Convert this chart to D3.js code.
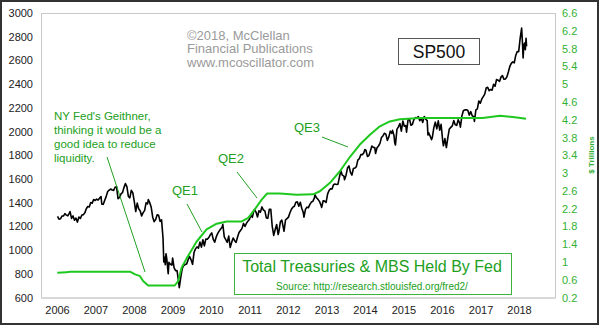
<!DOCTYPE html>
<html><head><meta charset="utf-8">
<script src="https://cdn.jsdelivr.net/npm/d3@7"></script>
<style>
html,body{margin:0;padding:0;background:#fff;}
svg text{font-family:"Liberation Sans",Arial,sans-serif;}
</style></head>
<body><svg id="c" width="600" height="326"></svg>
<script>
// ---------- DATA ----------
const spDates = [
"2006-01-06","2006-01-20","2006-02-03","2006-02-17","2006-03-03","2006-03-17","2006-03-31","2006-04-14","2006-04-28","2006-05-05","2006-05-19","2006-06-02","2006-06-16","2006-06-30","2006-07-14","2006-07-28","2006-08-11","2006-08-25","2006-09-08","2006-09-22","2006-10-06","2006-10-20","2006-11-03","2006-11-17","2006-12-01","2006-12-15","2006-12-29",
"2007-01-12","2007-01-26","2007-02-09","2007-02-23","2007-03-02","2007-03-16","2007-03-30","2007-04-13","2007-04-27","2007-05-11","2007-05-25","2007-06-08","2007-06-22","2007-07-06","2007-07-20","2007-08-03","2007-08-17","2007-08-31","2007-09-14","2007-09-28","2007-10-12","2007-10-26","2007-11-09","2007-11-23","2007-12-07","2007-12-21",
"2008-01-04","2008-01-18","2008-02-01","2008-02-15","2008-02-29","2008-03-14","2008-03-28","2008-04-11","2008-04-25","2008-05-09","2008-05-16","2008-05-30","2008-06-13","2008-06-27","2008-07-11","2008-07-25","2008-08-08","2008-08-22","2008-09-05","2008-09-19","2008-10-03","2008-10-10","2008-10-17","2008-10-24","2008-10-31","2008-11-07","2008-11-21","2008-11-28","2008-12-12","2008-12-26",
"2009-01-02","2009-01-16","2009-01-30","2009-02-13","2009-02-27","2009-03-06","2009-03-20","2009-04-03","2009-04-17","2009-05-01","2009-05-15","2009-05-29","2009-06-12","2009-06-26","2009-07-10","2009-07-24","2009-08-07","2009-08-21","2009-09-04","2009-09-18","2009-10-02","2009-10-16","2009-10-30","2009-11-13","2009-11-27","2009-12-11","2009-12-24",
"2010-01-08","2010-01-22","2010-02-05","2010-02-19","2010-03-05","2010-03-19","2010-04-02","2010-04-16","2010-04-23","2010-05-07","2010-05-21","2010-06-04","2010-06-18","2010-07-02","2010-07-16","2010-07-30","2010-08-13","2010-08-27","2010-09-10","2010-09-24","2010-10-08","2010-10-22","2010-11-05","2010-11-19","2010-12-03","2010-12-17","2010-12-31",
"2011-01-14","2011-01-28","2011-02-11","2011-02-18","2011-03-04","2011-03-18","2011-04-01","2011-04-15","2011-04-29","2011-05-13","2011-05-27","2011-06-10","2011-06-24","2011-07-08","2011-07-22","2011-08-05","2011-08-19","2011-09-02","2011-09-16","2011-09-30","2011-10-07","2011-10-21","2011-11-04","2011-11-25","2011-12-09","2011-12-23",
"2012-01-06","2012-01-20","2012-02-03","2012-02-17","2012-03-02","2012-03-16","2012-03-30","2012-04-13","2012-04-27","2012-05-11","2012-05-25","2012-06-01","2012-06-15","2012-06-29","2012-07-13","2012-07-27","2012-08-10","2012-08-24","2012-09-07","2012-09-14","2012-09-28","2012-10-12","2012-10-26","2012-11-09","2012-11-16","2012-11-30","2012-12-14","2012-12-28",
"2013-01-11","2013-01-25","2013-02-08","2013-02-22","2013-03-08","2013-03-22","2013-04-05","2013-04-19","2013-05-03","2013-05-17","2013-05-31","2013-06-14","2013-06-21","2013-07-05","2013-07-19","2013-08-02","2013-08-16","2013-08-30","2013-09-13","2013-09-27","2013-10-11","2013-10-25","2013-11-08","2013-11-22","2013-12-06","2013-12-20","2013-12-31",
"2014-01-10","2014-01-24","2014-02-07","2014-02-21","2014-03-07","2014-03-21","2014-04-04","2014-04-11","2014-04-25","2014-05-09","2014-05-23","2014-06-06","2014-06-20","2014-07-03","2014-07-18","2014-08-01","2014-08-15","2014-08-29","2014-09-12","2014-09-19","2014-10-03","2014-10-10","2014-10-17","2014-10-31","2014-11-14","2014-11-28","2014-12-12","2014-12-26",
"2015-01-09","2015-01-23","2015-01-30","2015-02-13","2015-02-27","2015-03-13","2015-03-27","2015-04-10","2015-04-24","2015-05-08","2015-05-22","2015-06-05","2015-06-19","2015-07-03","2015-07-17","2015-07-31","2015-08-14","2015-08-21","2015-08-28","2015-09-11","2015-09-25","2015-10-02","2015-10-16","2015-10-30","2015-11-13","2015-11-27","2015-12-11","2015-12-24",
"2016-01-08","2016-01-15","2016-01-29","2016-02-12","2016-02-26","2016-03-11","2016-03-25","2016-04-08","2016-04-22","2016-05-06","2016-05-20","2016-06-03","2016-06-17","2016-06-24","2016-07-08","2016-07-22","2016-08-05","2016-08-19","2016-09-02","2016-09-16","2016-09-30","2016-10-14","2016-10-28","2016-11-04","2016-11-18","2016-12-02","2016-12-16","2016-12-30",
"2017-01-13","2017-01-27","2017-02-10","2017-02-24","2017-03-10","2017-03-24","2017-04-07","2017-04-21","2017-05-05","2017-05-19","2017-06-02","2017-06-16","2017-06-30","2017-07-14","2017-07-28","2017-08-11","2017-08-25","2017-09-08","2017-09-22","2017-10-06","2017-10-20","2017-11-03","2017-11-17","2017-12-01","2017-12-15","2017-12-29",
"2018-01-12","2018-01-26","2018-02-02","2018-02-09","2018-02-16","2018-02-23","2018-03-02","2018-03-09","2018-03-14"
];
const spValues = [
1285,1261,1264,1287,1287,1307,1295,1289,1311,1325,1267,1288,1252,1270,1236,1279,1267,1296,1299,1314,1349,1368,1364,1401,1396,1427,1418,
1430,1422,1438,1451,1387,1386,1421,1453,1494,1505,1515,1507,1503,1530,1534,1433,1445,1474,1484,1527,1561,1536,1453,1441,1504,1484,
1411,1325,1396,1349,1331,1288,1316,1333,1398,1389,1426,1400,1361,1278,1240,1258,1297,1293,1242,1255,1099,899,940,877,969,930,800,896,880,873,
932,850,826,827,735,683,769,843,870,878,883,919,946,918,880,979,1010,1027,1016,1068,1025,1087,1036,1093,1091,1106,1127,
1145,1092,1066,1109,1139,1160,1178,1192,1217,1111,1088,1065,1118,1022,1065,1102,1079,1065,1110,1149,1166,1183,1225,1199,1225,1244,1258,
1293,1276,1329,1343,1321,1279,1332,1320,1364,1338,1331,1271,1268,1344,1345,1199,1124,1174,1216,1131,1155,1238,1253,1159,1255,1265,
1278,1315,1345,1362,1370,1404,1408,1370,1403,1353,1318,1278,1343,1362,1357,1386,1405,1411,1438,1466,1441,1428,1411,1380,1360,1416,1413,1402,
1472,1503,1518,1516,1551,1557,1553,1555,1614,1667,1631,1626,1593,1632,1692,1710,1655,1633,1688,1692,1704,1759,1771,1805,1805,1818,1848,
1842,1790,1797,1836,1878,1866,1865,1815,1863,1878,1900,1949,1963,1985,1978,1925,1955,2003,1985,2010,1967,1906,1887,2018,2039,2068,2003,2089,
2045,2051,1995,2097,2105,2053,2061,2102,2117,2116,2126,2092,2110,2077,2127,2104,2092,1971,1989,1961,1932,1951,2033,2079,2023,2090,2012,2061,
1922,1880,1940,1865,1948,2022,2035,2048,2092,2057,2052,2099,2071,2037,2130,2175,2183,2184,2180,2139,2168,2133,2126,2085,2182,2192,2258,2239,
2275,2295,2316,2367,2373,2344,2355,2349,2399,2382,2439,2433,2423,2459,2472,2441,2443,2461,2502,2549,2575,2588,2579,2642,2675,2674,
2786,2873,2762,2620,2732,2747,2691,2786,2720
];
const fedDates = [
"2006-01-04","2006-04-01","2006-05-05","2007-02-14","2007-11-24","2008-01-12","2008-02-28","2008-03-28","2008-05-15","2009-01-22","2009-02-24","2009-03-28","2009-05-15","2009-08-18","2009-11-20","2010-02-24","2010-05-30","2010-10-20","2010-12-20","2011-02-20","2011-04-27","2011-06-17","2011-10-15","2012-03-25","2012-08-28","2012-10-30","2013-02-03","2013-05-08","2013-08-10","2013-11-13","2014-02-17","2014-05-22","2014-08-25","2014-11-28","2015-06-06","2016-09-24","2017-01-22","2017-07-05","2017-12-10","2018-03-08"
];
const fedValues = [
0.755,0.77,0.777,0.78,0.78,0.72,0.68,0.57,0.47,0.47,0.57,0.87,1.08,1.46,1.73,1.86,1.91,1.91,1.99,2.18,2.40,2.54,2.54,2.51,2.52,2.59,2.78,3.04,3.36,3.64,3.86,4.05,4.16,4.21,4.24,4.24,4.24,4.29,4.25,4.22
];
const yearTicks = [2006,2007,2008,2009,2010,2011,2012,2013,2014,2015,2016,2017,2018];
const leftTicks = [600,800,1000,1200,1400,1600,1800,2000,2200,2400,2600,2800,3000];
const rightTicks = [0.2,0.6,1,1.4,1.8,2.2,2.6,3,3.4,3.8,4.2,4.6,5,5.4,5.8,6.2,6.6];
const copyrightLines = ["\u00A92018, McClellan","Financial Publications","www.mcoscillator.com"];
const noteLines = ["NY Fed's Geithner,","thinking it would be a","good idea to reduce","liquidity."];

// ---------- DRAW ----------
const svg = d3.select("#c");
const parse = d3.timeParse("%Y-%m-%d");
const sp = spDates.map((d,i)=>({date:parse(d), v:spValues[i]}));
const fed = fedDates.map((d,i)=>({date:parse(d), v:fedValues[i]}));

const P = {l:41, r:555, t:13, b:297};
const x = d3.scaleTime().domain([new Date(2006,0,1), new Date(2018,0,1)]).range([57,519]);
const yL = d3.scaleLinear().domain([600,3000]).range([297.5,13]);
const yR = d3.scaleLinear().domain([0.2,6.6]).range([297.5,13]);

const GREEN_LINE = "#1ec81e", GREEN_TEXT = "#22a022", GREEN_AXIS = "#33b033";

// outer frame
svg.append("rect").attr("x",1).attr("y",1).attr("width",597).attr("height",323)
  .attr("fill","#fff").attr("stroke","#333").attr("stroke-width",2);
// plot frame
svg.append("rect").attr("x",P.l+0.5).attr("y",P.t+0.5).attr("width",P.r-P.l).attr("height",P.b-P.t)
  .attr("fill","#fff").attr("stroke","#c8c8c8").attr("stroke-width",1);
svg.append("line").attr("x1",P.l).attr("x2",P.r+1).attr("y1",P.b+1).attr("y2",P.b+1)
  .attr("stroke","#d8d8d8").attr("stroke-width",2);

// axes
const axB = d3.axisBottom(x).tickValues(yearTicks.map(y=>new Date(y,0,1)))
  .tickFormat(d3.timeFormat("%Y")).tickSize(0).tickPadding(0);
const gB = svg.append("g").attr("transform","translate(0,306)").call(axB);
const axL = d3.axisLeft(yL).tickValues(leftTicks).tickFormat(d3.format("d")).tickSize(0).tickPadding(0);
const gL = svg.append("g").attr("transform","translate(33,0)").call(axL);
const axR = d3.axisRight(yR).tickValues(rightTicks).tickFormat(d=>String(+d.toFixed(1))).tickSize(0).tickPadding(0);
const gR = svg.append("g").attr("transform","translate(562,0)").call(axR);
[gB,gL,gR].forEach(g=>{ g.select(".domain").remove();
  g.selectAll("text").attr("font-family","Liberation Sans, Arial, sans-serif").attr("font-size",11); });
gB.selectAll("text").attr("fill","#222");
gL.selectAll("text").attr("fill","#222");
gR.selectAll("text").attr("fill",GREEN_AXIS);

svg.append("text").attr("transform","translate(594,155) rotate(-90)")
  .attr("text-anchor","middle").attr("font-size",8).attr("font-weight","bold")
  .attr("fill",GREEN_AXIS).text("$ Trillions");

// copyright
svg.append("g").selectAll("text").data(copyrightLines).join("text")
  .attr("x",187).attr("y",(d,i)=>39.5+i*13.5).attr("font-size",13).attr("fill","#9a9a9a").text(d=>d);

// SP500 box
svg.append("rect").attr("x",398.5).attr("y",38.5).attr("width",81).attr("height",26)
  .attr("fill","#fff").attr("stroke","#555").attr("stroke-width",1);
svg.append("text").attr("x",439).attr("y",57.5).attr("text-anchor","middle")
  .attr("font-size",17.5).attr("fill","#111").text("SP500");

// lines
const lineL = d3.line().x(d=>x(d.date)).y(d=>yL(d.v));
const lineR = d3.line().x(d=>x(d.date)).y(d=>yR(d.v));
svg.append("path").datum(sp).attr("d",lineL).attr("fill","none")
  .attr("stroke","#000").attr("stroke-width",1.6).attr("stroke-linejoin","round");
svg.append("path").datum(fed).attr("d",lineR).attr("fill","none")
  .attr("stroke",GREEN_LINE).attr("stroke-width",2).attr("stroke-linejoin","round");

// annotations
svg.append("g").selectAll("text").data(noteLines).join("text")
  .attr("x",54).attr("y",(d,i)=>119.5+i*14).attr("font-size",11.5).attr("fill",GREEN_TEXT).text(d=>d);
const qe = [{t:"QE1",x:172,y:195},{t:"QE2",x:218,y:163},{t:"QE3",x:294,y:131.5}];
svg.append("g").selectAll("text").data(qe).join("text")
  .attr("x",d=>d.x).attr("y",d=>d.y).attr("font-size",13).attr("fill",GREEN_TEXT).text(d=>d.t);
const leaders = [[107,157,145,272],[187,204,202,232],[237,172,257,198],[322,137,348,147]];
svg.append("g").selectAll("line").data(leaders).join("line")
  .attr("x1",d=>d[0]).attr("y1",d=>d[1]).attr("x2",d=>d[2]).attr("y2",d=>d[3])
  .attr("stroke",GREEN_TEXT).attr("stroke-width",1);

// legend box
svg.append("rect").attr("x",234.5).attr("y",253.5).attr("width",277).attr("height",41)
  .attr("fill","#fff").attr("stroke","#3cb43c").attr("stroke-width",1);
svg.append("text").attr("x",372).attr("y",272).attr("text-anchor","middle")
  .attr("font-size",16).attr("fill",GREEN_TEXT).text("Total Treasuries & MBS Held By Fed");
svg.append("text").attr("x",372).attr("y",290).attr("text-anchor","middle")
  .attr("font-size",10).attr("fill",GREEN_TEXT).text("Source: http://research.stlouisfed.org/fred2/");
</script></body></html>
